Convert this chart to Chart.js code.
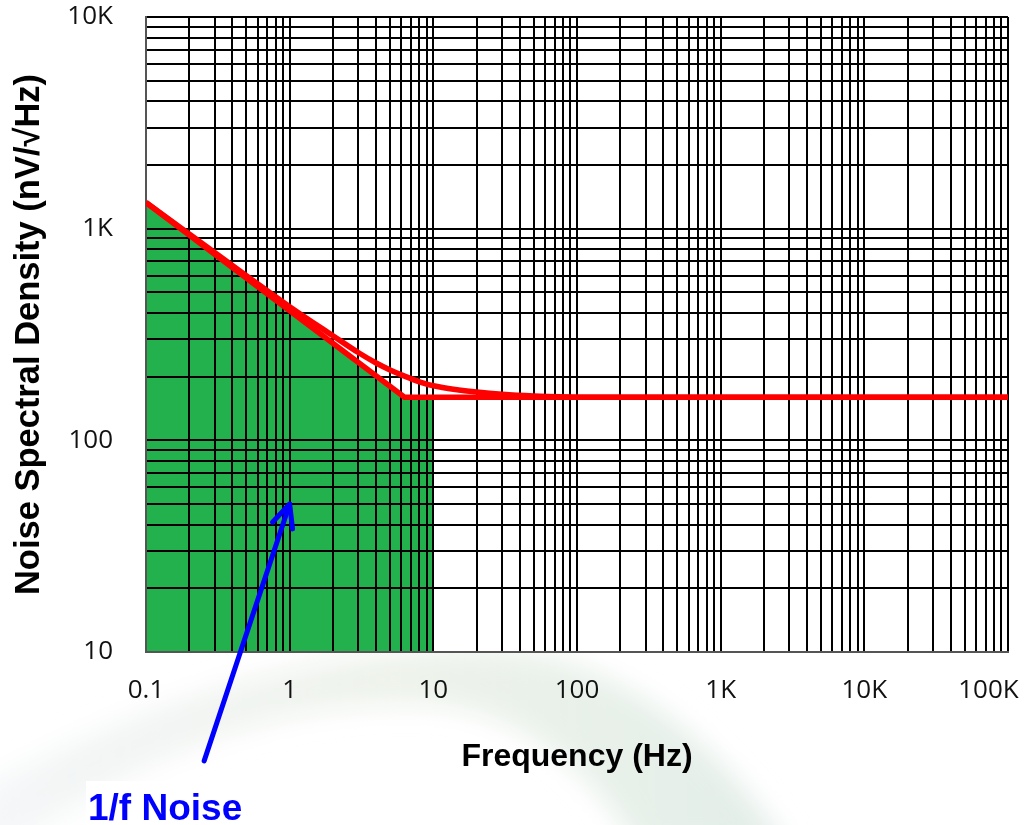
<!DOCTYPE html>
<html>
<head>
<meta charset="utf-8">
<script src="https://cdn.jsdelivr.net/npm/chart.js@4.4.1/dist/chart.umd.min.js"></script>
<style>
html,body{margin:0;padding:0;background:#fff;}
#wrap{position:relative;width:1032px;height:825px;overflow:hidden;background:#fff;}
#bg{position:absolute;left:0;top:0;}
#c{position:absolute;left:0;top:0;}
#noteText{position:absolute;left:88px;top:789px;font-family:'Liberation Sans',Arial,sans-serif;font-weight:bold;font-size:37px;line-height:37px;color:#0000ff;white-space:nowrap;}
</style>
</head>
<body>
<div id="wrap">
<svg id="bg" width="1032" height="825" viewBox="0 0 1032 825">
  <defs>
    <linearGradient id="g1" x1="0" y1="0" x2="1" y2="0">
      <stop offset="0" stop-color="#eef1f4" stop-opacity="0.6"/>
      <stop offset="0.5" stop-color="#e6ede2" stop-opacity="0.7"/>
      <stop offset="1" stop-color="#dbe9e2" stop-opacity="0.8"/>
    </linearGradient>
    <filter id="blur"><feGaussianBlur stdDeviation="14"/></filter>
  </defs>
  <path d="M -20 790 Q 250 640 500 650 Q 660 660 790 850 L 640 850 Q 560 720 440 705 Q 220 690 -20 870 Z" fill="url(#g1)" filter="url(#blur)"/>
  <rect x="86" y="781" width="251" height="44" fill="#fff"/>
</svg>
<canvas id="c" width="1032" height="825"></canvas>
<div id="noteText">1/f Noise</div>
</div>
<script>
// ---- data ----
const xMajor = [0.1, 1, 10, 100, 1000, 10000, 100000];
const xMajorLabels = ['0.1', '1', '10', '100', '1K', '10K', '100K\u2002\u2002\u2002'];
const yMajor = [10, 100, 1000, 10000];
const yMajorLabels = ['10', '100', '1K', '10K'];

// total noise curve (red, smooth)
const freqTotal = [0.1, 0.2, 0.5, 1, 2, 3, 4, 5, 6.3, 8, 10, 15, 20, 30, 50, 100, 100000];
const noiseTotal = [1330, 945, 600, 428, 312, 260, 232, 215, 201, 189, 181, 173, 169, 165, 162, 160, 160];

// asymptotes (red, straight)
const freqAsym = [0.1, 6.3, 100000];
const noiseAsym = [1330, 160, 160];

// 1/f noise region (green)
const freqFlicker = [0.1, 6.3, 10];
const noiseFlicker = [1330, 160, 160];

// annotation arrow: tail -> tip (data coordinates)
const arrowTail = [0.254, 3.06];
const arrowTip = [1, 50];

// ---- helpers ----
function decadeTicks(min, max) {
  const t = [];
  const e0 = Math.round(Math.log10(min)), e1 = Math.round(Math.log10(max));
  for (let e = e0; e < e1; e++) {
    for (let k = 1; k < 10; k++) t.push(parseFloat((k * Math.pow(10, e)).toPrecision(6)));
  }
  t.push(max);
  return t;
}
function labelFor(value, majors, labels) {
  for (let i = 0; i < majors.length; i++) {
    if (Math.abs(Math.log10(majors[i]) - Math.log10(value)) < 1e-6) return labels[i];
  }
  return '';
}
const pts = (xs, ys) => xs.map((x, i) => ({x: x, y: ys[i]}));

const xTicks = decadeTicks(xMajor[0], xMajor[xMajor.length - 1]);
const yTicks = decadeTicks(yMajor[0], yMajor[yMajor.length - 1]);

const gridOnTop = {
  id: 'gridOnTop',
  beforeDraw(chart) {
    const {ctx, chartArea: a} = chart;
    ctx.save();
    ctx.fillStyle = '#ffffff';
    ctx.fillRect(a.left, a.top, a.right - a.left, a.bottom - a.top);
    ctx.restore();
  },
  afterDatasetDraw(chart, args) {
    if (args.index === 2) {
      const a = chart.chartArea;
      chart.scales.x.drawGrid(a);
      chart.scales.y.drawGrid(a);
      if (typeof chart.scales.x.drawBorder === 'function') {
        chart.scales.x.drawBorder();
        chart.scales.y.drawBorder();
      }
    }
  },
  afterDraw(chart) {
    const {ctx} = chart;
    const xs = chart.scales.x, ys = chart.scales.y;
    const tx = xs.getPixelForValue(arrowTip[0]), ty = ys.getPixelForValue(arrowTip[1]);
    const sx = xs.getPixelForValue(arrowTail[0]), sy = ys.getPixelForValue(arrowTail[1]);
    const ang = Math.atan2(sy - ty, sx - tx);
    const hl = 25, ha = 25 * Math.PI / 180;
    ctx.save();
    ctx.strokeStyle = '#0000ff';
    ctx.lineWidth = 5;
    ctx.lineCap = 'round';
    ctx.lineJoin = 'round';
    ctx.beginPath();
    ctx.moveTo(sx, sy);
    ctx.lineTo(tx, ty);
    ctx.stroke();
    ctx.beginPath();
    ctx.moveTo(tx + hl * Math.cos(ang + ha), ty + hl * Math.sin(ang + ha));
    ctx.lineTo(tx, ty);
    ctx.lineTo(tx + hl * Math.cos(ang - ha), ty + hl * Math.sin(ang - ha));
    ctx.stroke();
    ctx.restore();
  }
};

Chart.defaults.font.family = "'Open Sans', sans-serif";

new Chart(document.getElementById('c'), {
  type: 'line',
  data: {
    datasets: [
      {
        label: 'Total noise',
        data: pts(freqTotal, noiseTotal),
        borderColor: '#ff0000',
        borderWidth: 5.5,
        pointRadius: 0,
        fill: false,
        cubicInterpolationMode: 'monotone'
      },
      {
        label: 'Asymptotes',
        data: pts(freqAsym, noiseAsym),
        borderColor: '#ff0000',
        borderWidth: 5.5,
        pointRadius: 0,
        fill: false,
        tension: 0
      },
      {
        label: '1/f noise',
        data: pts(freqFlicker, noiseFlicker),
        borderWidth: 0,
        borderColor: 'rgba(0,0,0,0)',
        backgroundColor: '#22b14c',
        pointRadius: 0,
        fill: 'start',
        tension: 0
      }
    ]
  },
  options: {
    responsive: false,
    animation: false,
    layout: {padding: {left: 0, top: 17, right: 24, bottom: 0}},
    plugins: {legend: {display: false}, tooltip: {enabled: false}},
    scales: {
      x: {
        type: 'logarithmic',
        min: xMajor[0],
        max: xMajor[xMajor.length - 1],
        afterBuildTicks: s => { s.ticks = xTicks.map(v => ({value: v})); },
        afterFit: s => { s.paddingLeft = 0; s.paddingRight = 0; s.height = 173; },
        ticks: {
          autoSkip: false, maxRotation: 0, minRotation: 0, padding: 23,
          font: {size: 26}, color: '#111',
          callback: v => labelFor(v, xMajor, xMajorLabels)
        },
        grid: {color: '#000', lineWidth: 2, drawTicks: false},
        border: {color: '#555', width: 2},
        title: {
          display: true, text: 'Frequency (Hz)', color: '#000',
          font: {family: "'Liberation Sans', Arial, sans-serif", weight: 'bold', size: 32},
          padding: {top: 0, bottom: 49}
        }
      },
      y: {
        type: 'logarithmic',
        min: yMajor[0],
        max: yMajor[yMajor.length - 1],
        afterBuildTicks: s => { s.ticks = yTicks.map(v => ({value: v})); },
        afterFit: s => { s.width = 146; s.paddingTop = 0; s.paddingBottom = 0; },
        ticks: {
          autoSkip: false, padding: 33,
          font: {size: 26}, color: '#111',
          callback: v => labelFor(v, yMajor, yMajorLabels)
        },
        grid: {color: '#000', lineWidth: 2, drawTicks: false},
        border: {color: '#555', width: 2},
        title: {
          display: true, text: 'Noise Spectral Density (nV/\u221AHz)', color: '#000',
          font: {family: "'Liberation Sans', Arial, sans-serif", weight: 'bold', size: 34.5},
          padding: {top: 9, bottom: 0}
        }
      }
    }
  },
  plugins: [gridOnTop]
});
</script>
</body>
</html>
